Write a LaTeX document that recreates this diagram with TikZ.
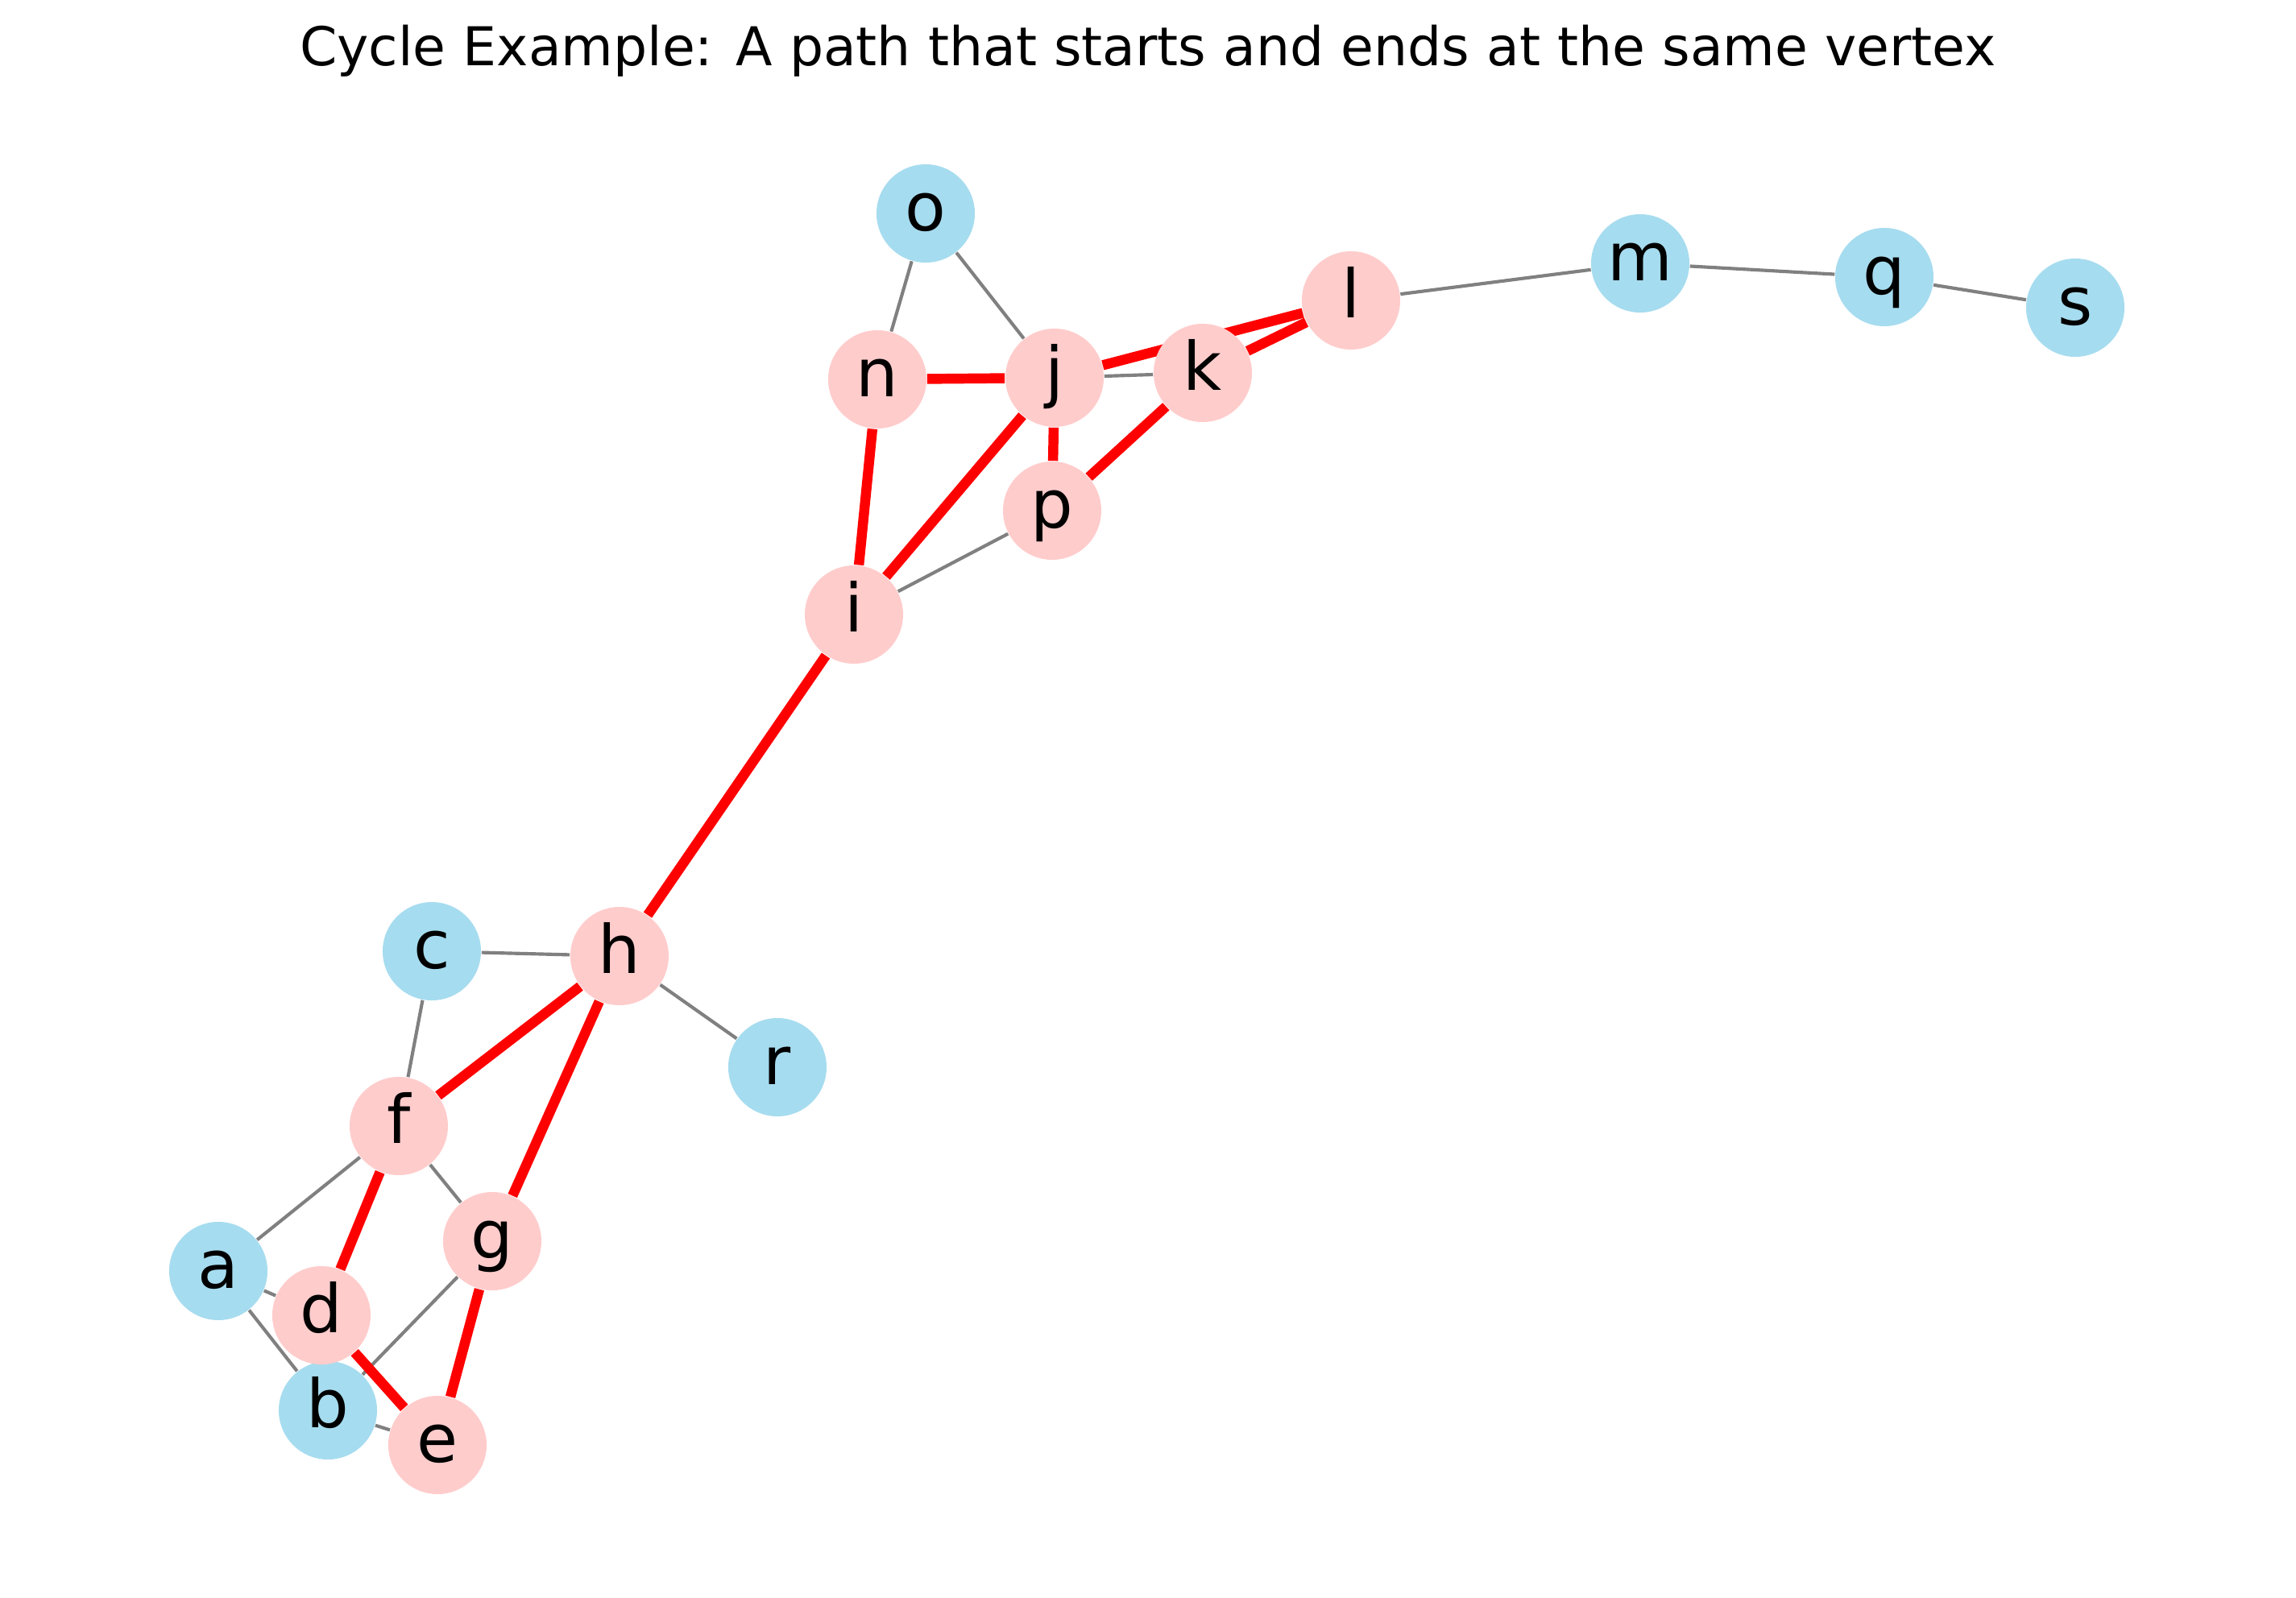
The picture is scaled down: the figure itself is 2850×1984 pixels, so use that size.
\documentclass[tikz,border=0pt]{standalone}
\usepackage{fontspec}
\setmainfont{DejaVu Sans}
\usetikzlibrary{backgrounds}

\definecolor{vtxblue}{RGB}{166,220,239}
\definecolor{vtxpink}{RGB}{255,204,204}

\begin{document}
\begin{tikzpicture}[
    x=0.2409pt, y=-0.2409pt,
    vtx/.style={circle, inner sep=0pt, minimum size=29.4pt, font=\fontsize{20}{24}\selectfont, text height=15.2pt, text depth=4.7pt},
    offcycle/.style={vtx, fill=vtxblue},
    oncycle/.style={vtx, fill=vtxpink},
    link/.style={draw=gray, line width=1pt},
    cyclelink/.style={draw=red, line width=3pt}
]
\useasboundingbox (0,0) rectangle (2850,1984);

% Title
\node[font=\fontsize{16}{19}\selectfont, anchor=base] (title) at (1425, 82) {Cycle Example: A path that starts and ends at the same vertex};

% Vertices
\node[offcycle] (a) at (271, 1578) {a};
\node[offcycle] (b) at (407, 1751) {b};
\node[offcycle] (c) at (536, 1181) {c};
\node[oncycle] (d) at (399, 1633) {d};
\node[oncycle] (e) at (543, 1794) {e};
\node[oncycle] (f) at (495, 1398) {f};
\node[oncycle] (g) at (611, 1541) {g};
\node[oncycle] (h) at (769, 1187) {h};
\node[oncycle] (i) at (1060, 763) {i};
\node[oncycle] (j) at (1309, 469) {j};
\node[oncycle] (k) at (1493, 463) {k};
\node[oncycle] (l) at (1677, 373) {l};
\node[offcycle] (m) at (2036, 327) {m};
\node[oncycle] (n) at (1089, 471) {n};
\node[offcycle] (o) at (1149, 265) {o};
\node[oncycle] (p) at (1306, 634) {p};
\node[offcycle] (q) at (2339, 344) {q};
\node[offcycle] (r) at (965, 1325) {r};
\node[offcycle] (s) at (2576, 382) {s};

% Edges
\begin{pgfonlayer}{background}
\draw[link] (o) -- (n);
\draw[link] (o) -- (j);
\draw[link] (j) -- (k);
\draw[link] (l) -- (m);
\draw[link] (m) -- (q);
\draw[link] (q) -- (s);
\draw[link] (i) -- (p);
\draw[link] (c) -- (h);
\draw[link] (h) -- (r);
\draw[link] (c) -- (f);
\draw[link] (a) -- (f);
\draw[link] (f) -- (g);
\draw[link] (a) -- (d);
\draw[link] (a) -- (b);
\draw[link] (b) -- (g);
\draw[link] (b) -- (e);

% Cycle edges
\draw[cyclelink] (n) -- (j);
\draw[cyclelink] (n) -- (i);
\draw[cyclelink] (i) -- (j);
\draw[cyclelink] (j) -- (p);
\draw[cyclelink] (p) -- (k);
\draw[cyclelink] (j) -- (l);
\draw[cyclelink] (k) -- (l);
\draw[cyclelink] (i) -- (h);
\draw[cyclelink] (h) -- (f);
\draw[cyclelink] (h) -- (g);
\draw[cyclelink] (f) -- (d);
\draw[cyclelink] (g) -- (e);
\draw[cyclelink] (d) -- (e);
\end{pgfonlayer}

\end{tikzpicture}
\end{document}
